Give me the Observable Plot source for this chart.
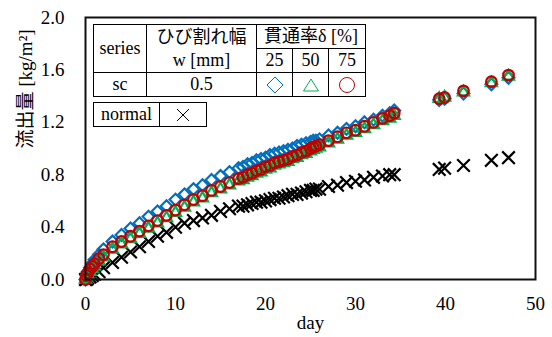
<!DOCTYPE html>
<html><head><meta charset="utf-8">
<script src="https://cdn.jsdelivr.net/npm/d3@7"></script>
<script src="https://cdn.jsdelivr.net/npm/@observablehq/plot@0.6"></script>
<style>
body{margin:0;background:#fff;}
#wrap{position:relative;width:552px;height:337px;font-family:"Times New Roman","Liberation Serif","DejaVu Serif",serif;}
#wrap svg, #wrap svg text{font-family:"Times New Roman","Liberation Serif","DejaVu Serif","Noto Sans CJK JP",serif !important;}
table.lg{position:absolute;border-collapse:collapse;table-layout:fixed;background:#fff;font-size:18px;color:#000;font-family:"Times New Roman","Liberation Serif","DejaVu Serif","Noto Sans CJK JP",serif;}
table.lg td{border:1px solid #000;padding:0;text-align:center;line-height:23px;height:23px;overflow:hidden;white-space:nowrap;}
table.lg td svg{display:block;margin:auto;}
</style></head>
<body><div id="wrap"></div>
<script>
const days  = [0,0.1,0.25,0.5,0.75,1,1.5,2,3,4, 5,6,7,8,9,10,11,12,13,14, 15,16,17,17.5,18,18.5,19,19.5,20,20.5, 21,21.5,22,22.5,23,23.5,24,24.5,25,25.3, 25.6,26,27,28,29,30,31,32,33,33.8, 34.3,39.3,39.9,42.0,45.1,47.0];
const sc25  = [0,0.03,0.06,0.09,0.12,0.15,0.19,0.23,0.29,0.34, 0.39,0.43,0.48,0.52,0.56,0.61,0.65,0.69,0.72,0.76, 0.79,0.82,0.85,0.86,0.88,0.89,0.91,0.92,0.93,0.95, 0.96,0.97,0.98,0.99,1.00,1.02,1.03,1.04,1.05,1.06, 1.06,1.07,1.10,1.12,1.15,1.17,1.20,1.22,1.25,1.27, 1.29,1.37,1.38,1.42,1.49,1.54];
const sc50  = [0,0.02,0.04,0.06,0.08,0.10,0.14,0.17,0.23,0.27, 0.31,0.35,0.39,0.43,0.47,0.51,0.55,0.59,0.62,0.66, 0.69,0.72,0.75,0.76,0.78,0.79,0.81,0.82,0.84,0.85, 0.87,0.88,0.89,0.90,0.92,0.93,0.95,0.96,0.98,0.99, 1.00,1.01,1.04,1.07,1.10,1.12,1.15,1.18,1.21,1.23, 1.25,1.38,1.39,1.43,1.50,1.55];
const sc75  = [0,0.03,0.05,0.08,0.10,0.12,0.16,0.19,0.25,0.29, 0.33,0.37,0.41,0.45,0.49,0.53,0.57,0.61,0.64,0.68, 0.71,0.74,0.77,0.78,0.80,0.81,0.83,0.84,0.86,0.87, 0.89,0.90,0.91,0.92,0.94,0.95,0.97,0.98,1.00,1.01, 1.02,1.03,1.06,1.09,1.12,1.14,1.17,1.20,1.23,1.25, 1.27,1.38,1.39,1.44,1.51,1.56];
const normal= [0,0,0.01,0.02,0.03,0.04,0.06,0.09,0.13,0.17, 0.21,0.25,0.29,0.33,0.36,0.40,0.43,0.45,0.47,0.49, 0.52,0.54,0.56,0.56,0.57,0.58,0.59,0.59,0.60,0.61, 0.62,0.62,0.63,0.64,0.65,0.65,0.66,0.67,0.68,0.68, 0.69,0.69,0.71,0.72,0.74,0.75,0.76,0.78,0.79,0.80, 0.80,0.84,0.85,0.87,0.91,0.93];
const xTicks = [0,10,20,30,40,50];
const yTicks = [0,0.4,0.8,1.2,1.6,2.0];
const xLabel = "day";
const yLabel = "流出量 [kg/m²]";

const rows = vals => days.map((d,i)=>({day:d, v:vals[i]}));
const blue="#0070C0", green="#00B050", red="#C00000";
const ff = "Times New Roman, Liberation Serif, DejaVu Serif, Noto Sans CJK JP, serif";

const chart = Plot.plot({
  width:552, height:337,
  marginLeft:85, marginRight:17, marginTop:17, marginBottom:58,
  style:{fontSize:"19px", color:"#000", background:"#fff"},
  x:{domain:[0,50]},
  y:{domain:[0,2]},
  marks:[
    Plot.axisX({ticks:xTicks, tickSize:0, tickPadding:17, tickFormat:d=>String(d), label:null, fontFamily:ff, fill:"#000"}),
    Plot.axisY({ticks:yTicks, tickSize:0, tickPadding:21, tickFormat:d3.format(".1f"), label:null, fontFamily:ff, fill:"#000"}),
    Plot.dot(rows(normal), {x:"day", y:"v", symbol:"times", r:5.8, stroke:"#000", strokeWidth:2.2}),
    Plot.dot(rows(sc25), {x:"day", y:"v", symbol:"diamond2", r:5.3, stroke:blue, strokeWidth:2.2}),
    Plot.dot(rows(sc50), {x:"day", y:"v", symbol:"triangle2", r:5.3, stroke:green, strokeWidth:2.2}),
    Plot.dot(rows(sc75), {x:"day", y:"v", symbol:"circle", r:5.3, stroke:red, strokeWidth:2.2}),
    Plot.frame({stroke:"#111", strokeWidth:2}),
    Plot.text([xLabel], {frameAnchor:"bottom", dy:49, text:d=>d, fontSize:19, fontFamily:ff, fill:"#000"}),
    Plot.text([yLabel], {frameAnchor:"left", dx:-60, rotate:-90, text:d=>d, fontSize:19, fontFamily:ff, fill:"#000"})
  ]
});
const wrap = document.getElementById("wrap");
wrap.appendChild(chart);

const dia = `<svg width="18" height="18"><path d="M9,1L17,9L9,17L1,9Z" fill="none" stroke="${blue}" stroke-width="1"/></svg>`;
const tri = `<svg width="18" height="16"><path d="M9,2L16.5,14L1.5,14Z" fill="none" stroke="${green}" stroke-width="1"/></svg>`;
const cir = `<svg width="18" height="18"><circle cx="9" cy="9" r="7.5" fill="none" stroke="${red}" stroke-width="1"/></svg>`;
const tim = `<svg width="16" height="16"><path d="M2,2L14,14M14,2L2,14" stroke="#000" stroke-width="1"/></svg>`;

const t1 = document.createElement("table");
t1.className="lg";
t1.style.left="93px"; t1.style.top="24px"; t1.style.width="272px";
t1.innerHTML = `<colgroup><col style="width:53px"><col style="width:110px"><col style="width:36px"><col style="width:36px"><col style="width:37px"></colgroup>
<tr><td rowspan="2">series</td><td rowspan="2">ひび割れ幅<br>w [mm]</td><td colspan="3">貫通率δ [%]</td></tr>
<tr><td>25</td><td>50</td><td>75</td></tr>
<tr><td>sc</td><td>0.5</td><td>${dia}</td><td>${tri}</td><td>${cir}</td></tr>`;
wrap.appendChild(t1);

const t2 = document.createElement("table");
t2.className="lg";
t2.style.left="93px"; t2.style.top="102px"; t2.style.width="113px";
t2.innerHTML = `<colgroup><col style="width:66px"><col style="width:47px"></colgroup>
<tr><td>normal</td><td>${tim}</td></tr>`;
wrap.appendChild(t2);
</script>
</body></html>
